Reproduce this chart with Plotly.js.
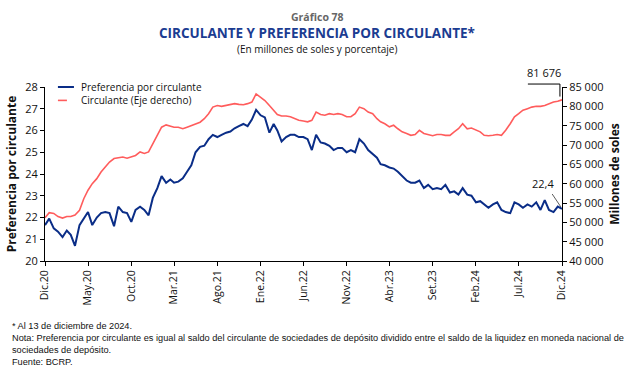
<!DOCTYPE html>
<html>
<head>
<meta charset="utf-8">
<script src="https://cdn.plot.ly/plotly-3.0.1.min.js"></script>
<style>
html,body{margin:0;padding:0;background:#fff;}
#chart{width:640px;height:370px;}
</style>
</head>
<body>
<div id="chart"></div>
<script>
const startYear = 2019, startMonth = 12;

// Preferencia por circulante (%), left axis
const preferencia = [
21.65,21.95,21.5,21.35,21.1,21.4,21.2,20.7,21.65,21.95,
22.25,21.65,22.0,22.2,22.25,22.2,21.6,22.5,22.25,22.2,
21.8,22.35,22.5,22.35,22.1,22.9,23.35,23.9,23.6,23.75,
23.6,23.65,23.8,24.1,24.4,25.0,25.25,25.3,25.6,25.8,
25.7,25.8,25.9,25.95,26.1,26.2,26.3,26.2,26.5,26.95,
26.7,26.6,25.9,26.3,26.0,25.5,25.7,25.8,25.8,25.7,
25.7,25.6,25.1,25.8,25.45,25.4,25.3,25.1,25.2,25.2,
25.0,25.1,25.0,25.6,25.4,25.1,24.9,24.75,24.45,24.4,
24.3,24.25,24.1,23.9,23.7,23.6,23.6,23.7,23.35,23.5,
23.3,23.35,23.3,23.5,23.15,23.2,23.05,23.35,23.05,23.0,
22.7,22.75,22.6,22.45,22.6,22.7,22.35,22.25,22.2,22.7,
22.6,22.45,22.6,22.5,22.7,22.35,22.8,22.35,22.25,22.5,
22.4
];

// Circulante (millones de soles), right axis
const circulante = [
51200,52500,52300,51500,51100,51500,51500,51900,53100,56100,
58300,60000,61300,63000,64300,65600,66500,66700,66900,66600,
66900,67300,68200,67800,68200,70300,72500,74600,75200,74900,
74600,74600,74200,74600,75000,75500,75900,76800,78100,79800,
80200,80000,80200,80400,80700,80500,80400,80700,81100,83200,
82400,81500,80200,79000,77900,77500,77500,77300,76800,76400,
76200,76000,76400,78500,77900,77700,78100,77900,78100,77900,
77300,77300,78100,79800,79400,78500,78100,76800,76000,75500,
74700,75100,74200,73400,73000,72500,72700,73800,73000,72700,
72400,72700,72700,72500,72500,73400,74200,75500,74200,74400,
73800,73400,72500,72400,72500,72700,72500,73800,75500,77300,
78100,79000,79400,79800,80000,80000,80200,80700,81100,81300,
81676
];

const tickDates = ['2019-12-01','2020-05-01','2020-10-01','2021-03-01','2021-08-01','2022-01-01','2022-06-01','2022-11-01','2023-04-01','2023-09-01','2024-02-01','2024-07-01','2024-12-01'];
const tickLabels = ['Dic.20','May.20','Oct.20','Mar.21','Ago.21','Ene.22','Jun.22','Nov.22','Abr.23','Set.23','Feb.24','Jul.24','Dic.24'];

const legendNames = ['Preferencia por circulante','Circulante (Eje derecho)'];
const lastCirculanteLabel = '81 676';
const lastPreferenciaLabel = '22,4';

// time index (half-month steps)
const fechas = preferencia.map((_, i) => {
  const mIdx = Math.floor(i / 2);
  let y = startYear, mo = startMonth + mIdx;
  y += Math.floor((mo - 1) / 12); mo = ((mo - 1) % 12) + 1;
  const d = (i % 2 === 0) ? '01' : '16';
  return y + '-' + String(mo).padStart(2, '0') + '-' + d;
});

const BLUE = '#0a2d87';
const RED = '#ff5c5c';
const FONT = 'Open Sans, DejaVu Sans, sans-serif';

const traces = [
  {x: fechas, y: preferencia, type: 'scatter', mode: 'lines', name: legendNames[0],
   line: {color: BLUE, width: 2}, yaxis: 'y', showlegend: false},
  {x: fechas, y: circulante, type: 'scatter', mode: 'lines', name: legendNames[1],
   line: {color: RED, width: 1.6}, yaxis: 'y2', showlegend: false}
];

const axisFont = {family: FONT, size: 11, color: '#111'};

const plotW = 640 - 45 - 78, plotH = 370 - 87 - 109;
function px(x) { return (x - 45) / plotW; }
function py(y) { return (370 - 109 - y) / plotH; }

const layout = {
  width: 640, height: 370,
  margin: {l: 45, r: 78, t: 87, b: 109},
  paper_bgcolor: '#fff', plot_bgcolor: '#fff',
  separators: ', ',
  showlegend: false,
  font: {family: FONT, color: '#111'},
  xaxis: {
    type: 'date', range: ['2019-12-01', '2024-12-01'],
    tickmode: 'array', tickvals: tickDates, ticktext: tickLabels,
    tickangle: -90, tickfont: {family: FONT, size: 10.5, color: '#111'},
    ticks: 'outside', ticklen: 4, tickcolor: '#000',
    showline: true, linecolor: '#000', linewidth: 1, mirror: false,
    showgrid: false, zeroline: false
  },
  yaxis: {
    range: [20, 28], dtick: 1, tick0: 20,
    ticks: 'outside', ticklen: 4, tickcolor: '#000',
    showline: true, linecolor: '#000', linewidth: 1,
    showgrid: false, zeroline: false, tickfont: axisFont,
    title: {text: '<b>Preferencia por circulante</b>', font: {family: FONT, size: 12, color: '#111'}, standoff: 6}
  },
  yaxis2: {
    overlaying: 'y', side: 'right', range: [40000, 85000], dtick: 5000, tick0: 40000,
    tickformat: ',d',
    ticks: 'outside', ticklen: 4, tickcolor: '#000',
    showline: true, linecolor: '#000', linewidth: 1,
    showgrid: false, zeroline: false, tickfont: axisFont,
    title: {text: '<b>Millones de soles</b>', font: {family: FONT, size: 12, color: '#111'}, standoff: 8}
  },
  shapes: [
    // legend symbols
    {type: 'line', xref: 'paper', yref: 'paper', x0: 0.025, x1: 0.056, y0: 1.0, y1: 1.0, line: {color: BLUE, width: 2}},
    {type: 'line', xref: 'paper', yref: 'paper', x0: 0.025, x1: 0.056, y0: 0.923, y1: 0.923, line: {color: RED, width: 1.6, dash: 'dash'}},
    // 81 676 leader
    {type: 'line', xref: 'paper', yref: 'paper', x0: 0.934, x1: 0.996, y0: 1.017, y1: 1.017, line: {color: '#000', width: 1}},
    {type: 'line', xref: 'paper', yref: 'paper', x0: 0.996, x1: 0.996, y0: 1.017, y1: 0.945, line: {color: '#000', width: 1}},
    // 22,4 leader
    {type: 'line', xref: 'paper', yref: 'paper', x0: 0.981, x1: 0.998, y0: 0.385, y1: 0.31, line: {color: '#333', width: 0.8}}
  ],
  annotations: [
    {text: '<b>Gráfico 78</b>', xref: 'paper', yref: 'paper', x: px(317), y: py(17), showarrow: false,
     font: {family: FONT, size: 10.5, color: '#666'}, xanchor: 'center', yanchor: 'middle'},
    {text: '<b>CIRCULANTE Y PREFERENCIA POR CIRCULANTE*</b>', xref: 'paper', yref: 'paper', x: px(317), y: py(33),
     xanchor: 'center', yanchor: 'middle', showarrow: false,
     font: {family: FONT, size: 13.5, color: '#1b3c91'}},
    {text: '(En millones de soles y porcentaje)', xref: 'paper', yref: 'paper', x: px(317), y: py(48.5),
     xanchor: 'center', yanchor: 'middle', showarrow: false,
     font: {family: FONT, size: 10, color: '#111'}},
    {text: legendNames[0], xref: 'paper', yref: 'paper', x: 0.066, y: 1.0, xanchor: 'left', yanchor: 'middle', showarrow: false,
     font: {family: FONT, size: 10, color: '#111'}},
    {text: legendNames[1], xref: 'paper', yref: 'paper', x: 0.066, y: 0.923, xanchor: 'left', yanchor: 'middle', showarrow: false,
     font: {family: FONT, size: 10, color: '#111'}},
    {text: lastCirculanteLabel, xref: 'paper', yref: 'paper', x: 0.965, y: 1.03, xanchor: 'center', yanchor: 'bottom', showarrow: false,
     font: {family: FONT, size: 11, color: '#111'}},
    {text: lastPreferenciaLabel, xref: 'paper', yref: 'paper', x: 0.963, y: 0.39, xanchor: 'center', yanchor: 'bottom', showarrow: false,
     font: {family: FONT, size: 11, color: '#111'}},
    {text: '* Al 13 de diciembre de 2024.<br>Nota: Preferencia por circulante es igual al saldo del circulante de sociedades de depósito dividido entre el saldo de la liquidez en moneda nacional de<br>sociedades de depósito.<br>Fuente: BCRP.',
     xref: 'paper', yref: 'paper', x: px(10), y: py(319),
     showarrow: false, align: 'left', xanchor: 'left', yanchor: 'top',
     font: {family: 'Liberation Sans, sans-serif', size: 9.2, color: '#111'}}
  ]
};

Plotly.newPlot('chart', traces, layout, {displayModeBar: false, staticPlot: true});
</script>
</body>
</html>
